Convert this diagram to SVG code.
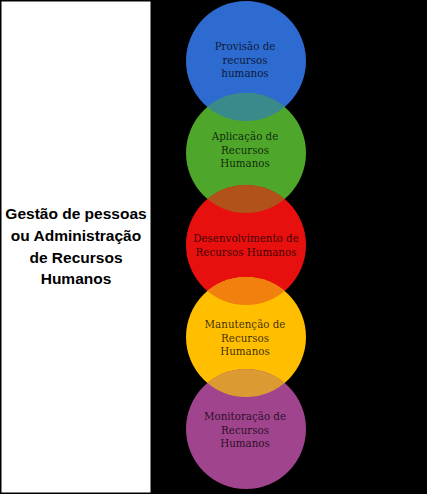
<svg xmlns="http://www.w3.org/2000/svg" width="427" height="494" viewBox="0 0 427 494">
<style>
.lbl{font-family:"Liberation Sans",Arial,sans-serif;font-weight:bold;font-size:15.5px;fill:#000;text-anchor:middle}
.ct{font-family:"DejaVu Serif","Liberation Serif",serif;font-size:10.3px;fill:#000;fill-opacity:0.78;text-anchor:middle}
</style>
<defs>
<clipPath id="c1"><circle cx="246" cy="61" r="60"/></clipPath>
<clipPath id="c2"><circle cx="246" cy="153" r="60"/></clipPath>
<clipPath id="c3"><circle cx="246" cy="245" r="60"/></clipPath>
<clipPath id="c4"><circle cx="246" cy="337" r="60"/></clipPath>
</defs>
<rect x="0" y="0" width="427" height="494" fill="#000"/>
<g id="title">
<rect x="1.5" y="1.5" width="149" height="491" fill="#fff"/>
<text class="lbl" x="76" y="219">Gestão de pessoas</text>
<text class="lbl" x="76" y="241">ou Administração</text>
<text class="lbl" x="76" y="263">de Recursos</text>
<text class="lbl" x="76" y="284">Humanos</text>
</g>
<g id="circles">
<circle id="provisao" cx="246" cy="61" r="60" fill="#2E6BD0"/>
<circle id="aplicacao" cx="246" cy="153" r="60" fill="#4EA72B"/>
<circle id="desenvolvimento" cx="246" cy="245" r="60" fill="#E8100E"/>
<circle id="manutencao" cx="246" cy="337" r="60" fill="#FFBF00"/>
<circle id="monitoracao" cx="246" cy="429" r="60" fill="#A0448E"/>
<circle cx="246" cy="153" r="60" fill="#3A8A8C" clip-path="url(#c1)"/>
<circle cx="246" cy="245" r="60" fill="#B0521A" clip-path="url(#c2)"/>
<circle cx="246" cy="337" r="60" fill="#F2800E" clip-path="url(#c3)"/>
<circle cx="246" cy="429" r="60" fill="#DC9A32" clip-path="url(#c4)"/>
</g>
<g id="texts">
<text class="ct" x="245" y="50">Provisão de</text>
<text class="ct" x="245" y="63.5">recursos</text>
<text class="ct" x="245" y="77">humanos</text>
<text class="ct" x="245" y="140">Aplicação de</text>
<text class="ct" x="245" y="153.5">Recursos</text>
<text class="ct" x="245" y="167">Humanos</text>
<text class="ct" x="246" y="242">Desenvolvimento de</text>
<text class="ct" x="246" y="255.5">Recursos Humanos</text>
<text class="ct" x="245" y="328">Manutenção de</text>
<text class="ct" x="245" y="341.5">Recursos</text>
<text class="ct" x="245" y="355">Humanos</text>
<text class="ct" x="245" y="420">Monitoração de</text>
<text class="ct" x="245" y="433.5">Recursos</text>
<text class="ct" x="245" y="447">Humanos</text>
</g>
</svg>
